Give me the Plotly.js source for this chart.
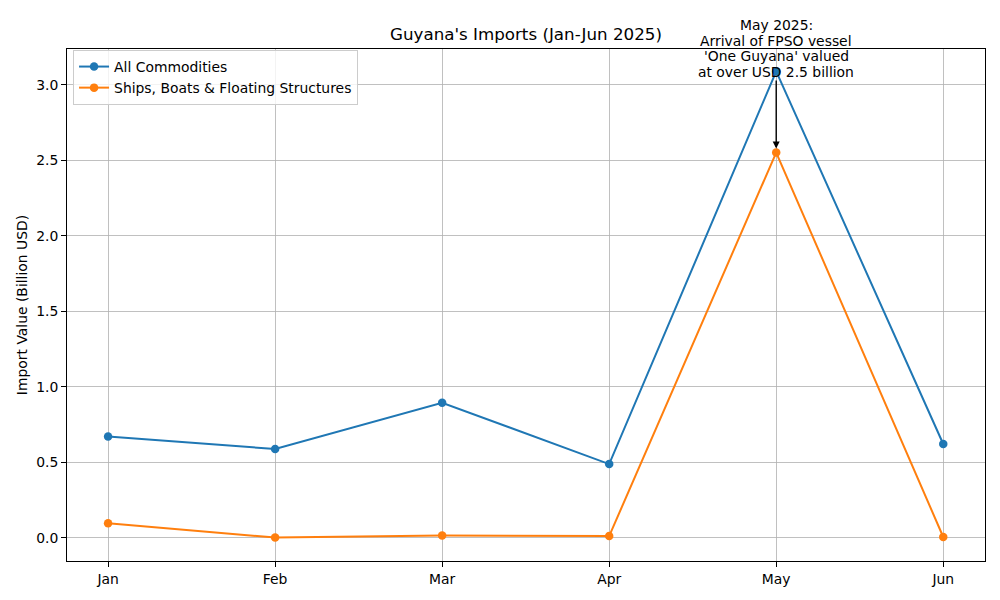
<!DOCTYPE html>
<html>
<head>
<meta charset="utf-8">
<script src="https://cdn.plot.ly/plotly-3.0.1.min.js"></script>
<style>html,body{margin:0;padding:0;background:#fff;}#chart{width:1000px;height:600px;}</style>
</head>
<body>
<div id="chart"></div>
<script>
const months = ["Jan", "Feb", "Mar", "Apr", "May", "Jun"];
const allCommodities = [0.671, 0.589, 0.895, 0.489, 3.09, 0.622];
const shipsBoats = [0.097, 0.002, 0.016, 0.012, 2.552, 0.006];
const seriesNames = ["All Commodities", "Ships, Boats & Floating Structures"];
const yTicks = [0.0, 0.5, 1.0, 1.5, 2.0, 2.5, 3.0];
const annotationLines = ["May 2025:", "Arrival of FPSO vessel", "'One Guyana' valued", "at over USD 2.5 billion"];

const xIdx = months.map((m, i) => i);

const traces = [
  {x: xIdx, y: allCommodities, name: seriesNames[0], mode: "lines+markers", type: "scatter",
   line: {color: "#1f77b4", width: 2}, marker: {color: "#1f77b4", size: 8.5}, cliponaxis: false},
  {x: xIdx, y: shipsBoats, name: seriesNames[1], mode: "lines+markers", type: "scatter",
   line: {color: "#ff7f0e", width: 2}, marker: {color: "#ff7f0e", size: 8.5}, cliponaxis: false}
];

// pixel-based placement of the annotation text lines (plot area spans 49..561 px)
const lineCenters = [25, 40.7, 56.3, 72];
const textAnns = annotationLines.map((t, i) => ({
  x: 4, y: (561 - lineCenters[i]) / 512, xref: "x", yref: "paper", text: t, showarrow: false,
  font: {size: 13.9, color: "#000"}, xanchor: "center", yanchor: "middle"
}));

const layout = {
  width: 1000, height: 600,
  margin: {l: 67, r: 15, t: 49, b: 39},
  paper_bgcolor: "#fff", plot_bgcolor: "#fff",
  font: {family: "DejaVu Sans", size: 13.9, color: "#000"},
  title: {text: "Guyana's Imports (Jan-Jun 2025)", font: {size: 16.7, color: "#000"}, x: 0.5, xref: "paper", xanchor: "center", y: 0.943, yanchor: "middle"},
  showlegend: true,
  legend: {x: 0.0066, y: 0.998, xanchor: "left", yanchor: "top", bgcolor: "rgba(255,255,255,0.8)", bordercolor: "#cccccc", borderwidth: 1, font: {size: 13.9}, tracegroupgap: 0, itemwidth: 30},
  xaxis: {
    range: [-0.246, 5.25], tickvals: xIdx, ticktext: months,
    showgrid: true, gridcolor: "#b0b0b0", gridwidth: 0.8,
    showline: true, linecolor: "#000", linewidth: 1, mirror: true,
    ticks: "outside", ticklen: 5, tickcolor: "#000", zeroline: false,
    tickfont: {size: 13.9}
  },
  yaxis: {
    range: [-0.153, 3.238], tickvals: yTicks, tickformat: ".1f",
    showgrid: true, gridcolor: "#b0b0b0", gridwidth: 0.8,
    showline: true, linecolor: "#000", linewidth: 1, mirror: true,
    ticks: "outside", ticklen: 5, tickcolor: "#000", zeroline: false,
    tickfont: {size: 13.9},
    title: {text: "Import Value (Billion USD)", font: {size: 13.9}, standoff: 5}
  },
  annotations: [
    {x: 4, y: shipsBoats[4], xref: "x", yref: "y", ax: 4, ay: 3.04, axref: "x", ayref: "y",
     text: "", showarrow: true, arrowhead: 2, arrowsize: 1, arrowwidth: 1.4, arrowcolor: "#000", standoff: 4}
  ].concat(textAnns)
};

Plotly.newPlot("chart", traces, layout, {displayModeBar: false, staticPlot: true});
</script>
</body>
</html>
